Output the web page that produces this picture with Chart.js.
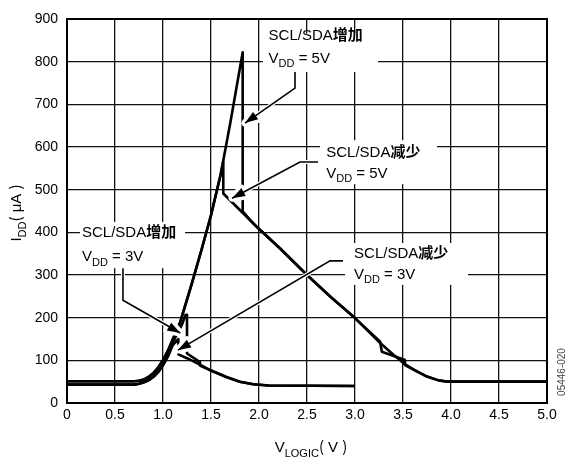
<!DOCTYPE html>
<html>
<head>
<meta charset="utf-8">
<script src="https://cdn.jsdelivr.net/npm/chart.js@4.4.1/dist/chart.umd.min.js"></script>
<style>
  html, body { margin: 0; padding: 0; background: #fff; }
  #wrap { width: 573px; height: 461px; }
</style>
</head>
<body>
<div id="wrap"><canvas id="c" width="573" height="461"></canvas></div>
<script>
// tick labels
const xTicks = ['0', '0.5', '1.0', '1.5', '2.0', '2.5', '3.0', '3.5', '4.0', '4.5', '5.0']
const yTicks = ['0', '100', '200', '300', '400', '500', '600', '700', '800', '900']

// VDD = 5V, SCL/SDA rising (V, uA)
const vdd5Rise = [
  [0, 51], [0.6, 51], [0.7, 51], [0.75, 52], [0.8, 55], [0.85, 61], [0.9, 70], [0.95, 83],
  [1.0, 100], [1.05, 122], [1.1, 148], [1.18, 190], [1.3, 280], [1.4, 358], [1.5, 440],
  [1.6, 535], [1.7, 655], [1.83, 822], [1.83, 449], [1.906, 429], [1.99, 410], [2.22, 362],
  [2.5, 300], [2.75, 248], [3.0, 199], [3.26, 141], [3.4, 113], [3.52, 91], [3.62, 77],
  [3.75, 62], [3.87, 53], [3.97, 50], [4.5, 50], [5.0, 50]
]
// VDD = 5V, SCL/SDA falling
const vdd5Fall = [
  [5.0, 50], [4.5, 50], [3.97, 50], [3.87, 53], [3.75, 62], [3.62, 77], [3.52, 89],
  [3.52, 101], [3.28, 120], [3.26, 144], [3.0, 199], [2.75, 248], [2.5, 300], [2.22, 362],
  [1.99, 410], [1.906, 429], [1.628, 491], [1.628, 566], [1.6, 535], [1.5, 440], [1.4, 358],
  [1.3, 280], [1.18, 190], [1.1, 148], [1.05, 122], [1.0, 100], [0.95, 83], [0.9, 70],
  [0.85, 61], [0.8, 55], [0.75, 52], [0.7, 51], [0.6, 51], [0, 51]
]
// VDD = 3V, SCL/SDA rising
const vdd3Rise = [
  [0, 43], [0.7, 43], [0.75, 45], [0.8, 49], [0.85, 54], [0.9, 62], [0.95, 74], [1.0, 90],
  [1.05, 112], [1.1, 140], [1.15, 163], [1.2, 185], [1.235, 207], [1.25, 207], [1.25, 116],
  [1.385, 96], [1.385, 88], [1.5, 76], [1.66, 61], [1.8, 50], [1.94, 44], [2.1, 41], [3.0, 40]
]
// VDD = 3V, SCL/SDA falling
const vdd3Fall = [
  [3.0, 40], [2.1, 41], [1.94, 44], [1.8, 50], [1.66, 61], [1.5, 76], [1.385, 90],
  [1.25, 105], [1.16, 114], [1.16, 150], [1.1, 135], [1.05, 108], [1.0, 88], [0.95, 72],
  [0.9, 61], [0.85, 53], [0.8, 48], [0.75, 45], [0.7, 43], [0, 43]
]

const LATIN = '"Liberation Sans", Arial, sans-serif'
const CJK = '"Noto Sans CJK SC", sans-serif'

// callouts: text anchor, white box and leader (all in data units)
const callouts = [
  {
    at: [2.10, 851], gap: 23,
    lines: [[{ t: 'SCL/SDA' }, { t: '增加', cjk: true }], [{ t: 'V' }, { t: 'DD', sub: true }, { t: ' = 5V' }]],
    box: [2.04, 866, 3.24, 776],
    leader: [[2.375, 776], [2.375, 738], [1.854, 656]]
  },
  {
    at: [2.70, 577], gap: 21,
    lines: [[{ t: 'SCL/SDA' }, { t: '减少', cjk: true }], [{ t: 'V' }, { t: 'DD', sub: true }, { t: ' = 5V' }]],
    box: [2.635, 616, 3.854, 513],
    leader: [[2.615, 565], [2.427, 565], [1.72, 480]]
  },
  {
    at: [0.156, 389], gap: 24,
    lines: [[{ t: 'SCL/SDA' }, { t: '增加', cjk: true }], [{ t: 'V' }, { t: 'DD', sub: true }, { t: ' = 3V' }]],
    box: [0.135, 424, 1.23, 316],
    leader: [[0.583, 316], [0.583, 241], [1.18, 164]]
  },
  {
    at: [2.99, 340], gap: 21,
    lines: [[{ t: 'SCL/SDA' }, { t: '减少', cjk: true }], [{ t: 'V' }, { t: 'DD', sub: true }, { t: ' = 3V' }]],
    box: [2.896, 375, 4.177, 277],
    leader: [[2.875, 333], [2.74, 333], [1.156, 124]]
  }
]

function fontFor (p, size) {
  if (p.cjk) return 'bold ' + size + 'px ' + CJK
  if (p.paren) return size + 'px ' + CJK
  if (p.sub) return Math.round(size * 0.75) + 'px ' + LATIN
  return size + 'px ' + LATIN
}

function richWidth (ctx, parts, size) {
  let w = 0
  for (const p of parts) {
    ctx.font = fontFor(p, size)
    w += ctx.measureText(p.t).width
  }
  return w
}

function drawRich (ctx, parts, x, y, size) {
  ctx.textBaseline = 'alphabetic'
  ctx.textAlign = 'left'
  for (const p of parts) {
    ctx.font = fontFor(p, size)
    ctx.fillText(p.t, x, y + (p.sub ? 4.5 : 0))
    x += ctx.measureText(p.t).width
  }
  return x
}

function drawLeader (ctx, pts) {
  const n = pts.length
  const [tx, ty] = pts[n - 1]
  const [px, py] = pts[n - 2]
  const ang = Math.atan2(ty - py, tx - px)
  const len = 13, hw = 4.5
  const head = [
    [tx, ty],
    [tx - len * Math.cos(ang) + hw * Math.sin(ang), ty - len * Math.sin(ang) - hw * Math.cos(ang)],
    [tx - len * Math.cos(ang) - hw * Math.sin(ang), ty - len * Math.sin(ang) + hw * Math.cos(ang)]
  ]
  const path = () => {
    ctx.beginPath()
    ctx.moveTo(pts[0][0], pts[0][1])
    for (let i = 1; i < n; i++) ctx.lineTo(pts[i][0], pts[i][1])
  }
  const tri = () => {
    ctx.beginPath()
    ctx.moveTo(head[0][0], head[0][1])
    ctx.lineTo(head[1][0], head[1][1])
    ctx.lineTo(head[2][0], head[2][1])
    ctx.closePath()
  }
  ctx.save()
  ctx.lineJoin = 'round'
  ctx.strokeStyle = '#fff'
  ctx.lineWidth = 4
  path(); ctx.stroke()
  tri(); ctx.lineWidth = 7; ctx.stroke()
  ctx.lineJoin = 'miter'
  ctx.strokeStyle = '#000'
  ctx.lineWidth = 1.6
  path(); ctx.stroke()
  ctx.fillStyle = '#000'
  tri(); ctx.fill()
  ctx.restore()
}

const decorations = {
  id: 'decorations',
  afterDatasetsDraw (chart) {
    const { ctx, chartArea: a } = chart
    const xs = chart.scales.x
    const ys = chart.scales.y
    const X = v => xs.getPixelForValue(v)
    const Y = v => ys.getPixelForValue(v)

    // frame
    ctx.save()
    ctx.strokeStyle = '#000'
    ctx.lineWidth = 2
    ctx.strokeRect(a.left, a.top, a.right - a.left, a.bottom - a.top)
    ctx.restore()

    for (const c of callouts) {
      ctx.save()
      ctx.fillStyle = '#fff'
      const [bx0, by0, bx1, by1] = c.box
      ctx.fillRect(X(bx0), Y(by0), X(bx1) - X(bx0), Y(by1) - Y(by0))
      ctx.restore()
    }
    for (const c of callouts) {
      drawLeader(ctx, c.leader.map(p => [X(p[0]), Y(p[1])]))
    }
    for (const c of callouts) {
      ctx.save()
      ctx.fillStyle = '#000'
      const x = X(c.at[0])
      let y = Y(c.at[1])
      for (const line of c.lines) {
        drawRich(ctx, line, x, y, 15)
        y += c.gap
      }
      ctx.restore()
    }

    // axis titles
    ctx.save()
    ctx.fillStyle = '#000'
    const xt = [{ t: 'V' }, { t: 'LOGIC', sub: true }, { t: '(', paren: true }, { t: ' V ' }, { t: ')', paren: true }]
    let w = richWidth(ctx, xt, 15)
    drawRich(ctx, xt, (a.left + a.right) / 2 + 4 - w / 2, 452, 15)

    const yt = [{ t: 'I' }, { t: 'DD', sub: true }, { t: '(', paren: true }, { t: ' μA ' }, { t: ')', paren: true }]
    w = richWidth(ctx, yt, 15)
    ctx.translate(21, 213)
    ctx.rotate(-Math.PI / 2)
    drawRich(ctx, yt, -w / 2, 0, 15)
    ctx.restore()

    // figure code
    ctx.save()
    ctx.fillStyle = '#444'
    ctx.font = '10px ' + LATIN
    ctx.translate(565, 372)
    ctx.rotate(-Math.PI / 2)
    ctx.textAlign = 'center'
    ctx.fillText('05446-020', 0, 0)
    ctx.restore()
  }
}

const toPts = arr => arr.map(([x, y]) => ({ x, y }))
const lineStyle = { borderColor: '#000', borderWidth: 2.6, pointRadius: 0, showLine: true, tension: 0, fill: false, borderJoinStyle: 'round' }

new Chart(document.getElementById('c'), {
  type: 'scatter',
  data: {
    datasets: [
      { label: 'SCL/SDA增加 VDD = 5V', data: toPts(vdd5Rise), ...lineStyle },
      { label: 'SCL/SDA减少 VDD = 5V', data: toPts(vdd5Fall), ...lineStyle },
      { label: 'SCL/SDA增加 VDD = 3V', data: toPts(vdd3Rise), ...lineStyle },
      { label: 'SCL/SDA减少 VDD = 3V', data: toPts(vdd3Fall), ...lineStyle }
    ]
  },
  options: {
    responsive: false,
    animation: false,
    layout: { padding: { left: 0, top: 19, right: 26, bottom: 0 } },
    plugins: { legend: { display: false }, tooltip: { enabled: false } },
    scales: {
      x: {
        type: 'linear',
        min: 0,
        max: 5,
        afterFit: s => { s.height = 58 },
        afterBuildTicks: s => { s.ticks = xTicks.map((t, i) => ({ value: i * 0.5 })) },
        ticks: {
          callback: (v, i) => xTicks[i],
          color: '#000',
          font: { family: LATIN, size: 14 },
          padding: 4,
          maxRotation: 0,
          autoSkip: false
        },
        grid: { color: '#111', lineWidth: 1.3, drawTicks: false },
        border: { color: '#000', width: 2 }
      },
      y: {
        type: 'linear',
        min: 0,
        max: 900,
        afterFit: s => { s.width = 67 },
        afterBuildTicks: s => { s.ticks = yTicks.map((t, i) => ({ value: i * 100 })) },
        ticks: {
          callback: (v, i) => yTicks[i],
          color: '#000',
          font: { family: LATIN, size: 14 },
          padding: 9,
          autoSkip: false
        },
        grid: { color: '#111', lineWidth: 1.3, drawTicks: false },
        border: { color: '#000', width: 2 }
      }
    }
  },
  plugins: [decorations]
})
</script>
</body>
</html>
